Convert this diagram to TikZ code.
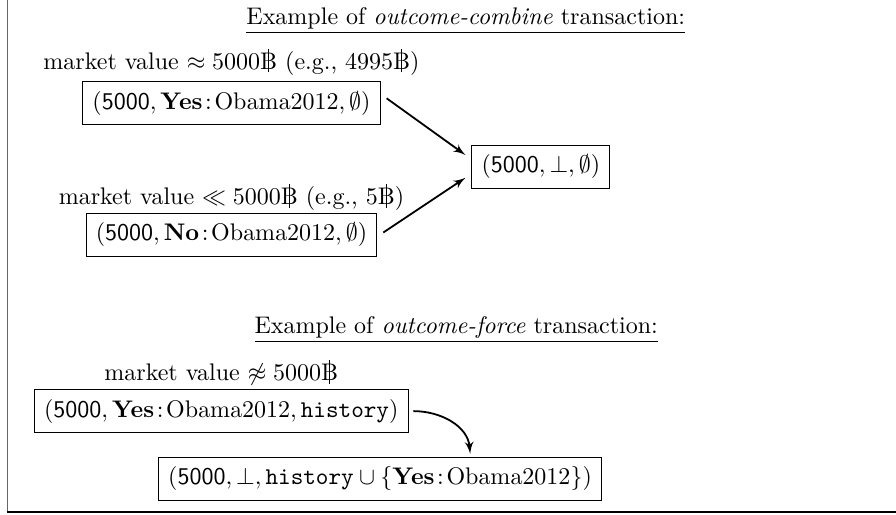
\documentclass[tikz,border=0pt]{standalone}
\usepackage{xcolor}
\usepackage{amsmath}
\usepackage{amssymb}
\usepackage{tikz}
\usetikzlibrary{shapes,arrows,positioning,calc}

\newcommand{\baht}{\ooalign{\hidewidth\rule[-0.3ex]{0.45pt}{2.25ex}\hidewidth\cr B\cr}}

\begin{document}
\begin{tikzpicture}[auto, node distance=2cm, >=latex']

% Define block styles
\tikzstyle{block} = [draw, rectangle, inner sep=4pt]
\tikzstyle{caption} = [inner sep=1pt]
\tikzstyle{corner} = [coordinate]
\tikzstyle{arrow} = [->, line width=0.75pt]

\useasboundingbox (0,0) rectangle (13.12,-7.541);

% Frame
\node [corner] (topleft) at (0.103,0) {};
\node [corner] (botleft) at (0.103,-7.50) {};
\node [corner] (botright) at (13.12,-7.50) {};
\draw [gray!80!black] (topleft) -- (botleft);
\draw [semithick] (botleft) -- (botright);

% Outcome-combine
\node (title1) at (6.82,-0.31) {\underline{Example of \emph{outcome-combine} transaction:}};
\node [block] (yes) at (3.39,-1.51) {$(\mathsf{5000}, \mathbf{Yes}\!:\!\mathrm{Obama2012}, \emptyset)$};
\node [caption, above of=yes, node distance=0.6cm] (mv1) {market value $\approx 5000$\baht{} (e.g., 4995\baht)};
\node [block, below of=yes, node distance=1.93cm] (no) {$(\mathsf{5000}, \mathbf{No}\!:\!\mathrm{Obama2012}, \emptyset)$};
\node [caption, above of=no, node distance=0.55cm] (mv2) {market value $\ll 5000$\baht{} (e.g., 5\baht)};
\node [block] (res1) at (7.92,-2.445) {$(\mathsf{5000}, \bot, \emptyset)$};

% Outcome-force
\node (title2) at (6.68,-4.83) {\underline{Example of \emph{outcome-force} transaction:}};
\node [block] (hist) at (3.24,-6.02) {$(\mathsf{5000}, \mathbf{Yes}\!:\!\mathrm{Obama2012}, \mathtt{history})$};
\node [caption, above of=hist, node distance=0.56cm] (mv3) {market value $\not\approx 5000$\baht};
\node [block] (res2) at (5.565,-7.01) {$(\mathsf{5000}, \bot, \mathtt{history} \cup \{\mathbf{Yes}\!:\!\mathrm{Obama2012}\})$};
\node [corner, above right=0.04cm and 1.32cm of res2.north] (tip2) {};

% Connections
\draw [arrow] ([xshift=2.5pt,yshift=2pt]yes.east) -- ([xshift=-2.5pt,yshift=5pt]res1.west);
\draw [arrow] ([xshift=2.5pt,yshift=1pt]no.east) -- ([xshift=-2.5pt,yshift=-4.5pt]res1.west);
\draw [arrow] ([xshift=2pt]hist.east) to [out=0, in=95] (tip2);

\end{tikzpicture}
\end{document}
